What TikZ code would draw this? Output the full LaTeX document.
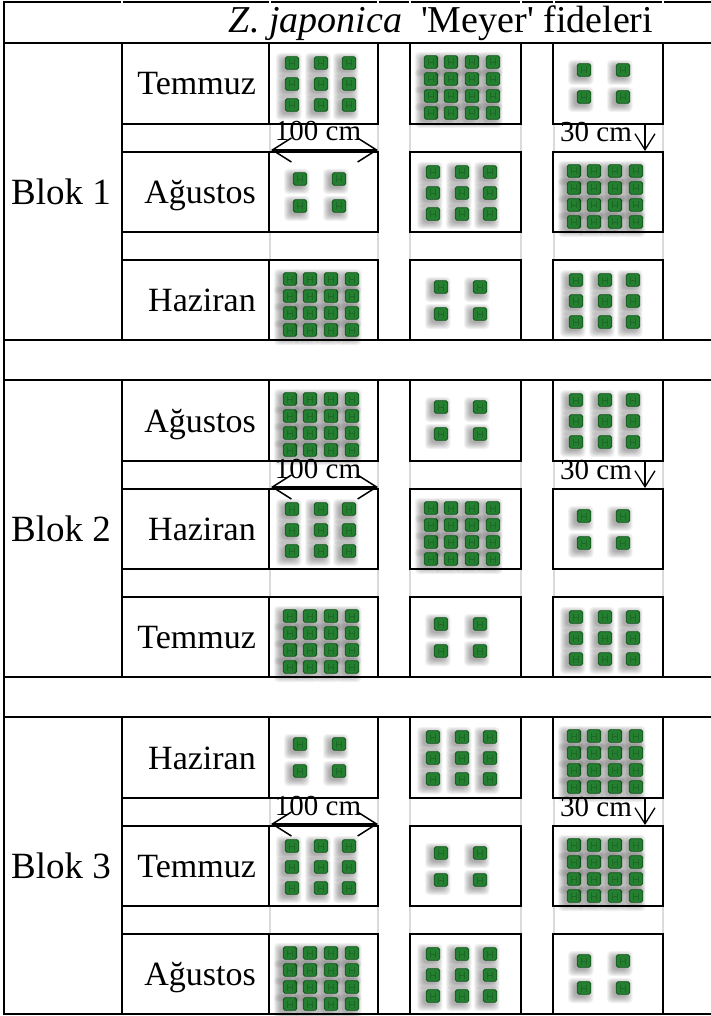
\documentclass[tikz,border=0pt]{standalone}
\usepackage{fontspec}
\setmainfont{Liberation Serif}
\usetikzlibrary{arrows.meta}

\definecolor{seedgreen}{RGB}{36,128,48}
\definecolor{seeddark}{RGB}{20,84,28}
\definecolor{seedmark}{RGB}{28,104,38}
\definecolor{edgegrey}{RGB}{218,218,218}

% one seedling: soft shadow below-left, then the green pot
\newcommand{\seedling}[2]{%
  \pgfmathsetmacro{\sx}{#1}\pgfmathsetmacro{\sy}{#2}%
  \foreach \k in {0,...,6}{%
    \fill[black,opacity=0.05,rounded corners=4pt]
      (\sx-10-\k,\sy-4-\k) rectangle (\sx+3.5+\k,\sy+9+\k);}
  \fill[seedgreen,draw=seeddark,line width=0.8pt,rounded corners=1.8pt]
    (\sx-6.8,\sy-6.3) rectangle (\sx+6.8,\sy+6.3);
  \draw[seedmark,line width=0.6pt]
    (\sx-2.5,\sy-3.5) -- (\sx-2.5,\sy+3.5)
    (\sx+2.5,\sy-3.5) -- (\sx+2.5,\sy+3.5)
    (\sx-2.5,\sy) -- (\sx+2.5,\sy);
}

% a plot with 4, 9 or 16 seedlings; (#2,#3) is its top-left corner
\newcommand{\bed}[3]{%
  \ifnum#1=4
    \foreach \u in {31,70}{\foreach \v in {27,54}{\seedling{#2+\u}{#3+\v}}}\fi
  \ifnum#1=9
    \foreach \u in {23,52,80}{\foreach \v in {20,41,62}{\seedling{#2+\u}{#3+\v}}}\fi
  \ifnum#1=16
    \foreach \u in {21,41,62,83}{\foreach \v in {19,36,53,70}{\seedling{#2+\u}{#3+\v}}}\fi
}

\tikzset{
  rule/.style={line width=2.5pt},
  lbl/.style={font=\fontsize{34}{40}\selectfont,inner sep=0pt},
  bloklbl/.style={font=\fontsize{37}{44}\selectfont,inner sep=0pt},
  head/.style={font=\fontsize{38}{44}\selectfont,inner sep=0pt},
  dimtext/.style={font=\fontsize{29}{34}\selectfont,inner sep=0pt},
  widthdim/.style={line width=1.8pt,
    {Straight Barb[length=19pt,width=24pt,line width=1.5pt]}-{Straight Barb[length=19pt,width=24pt,line width=1.5pt]}},
  spacedim/.style={line width=1.4pt,
    -{Straight Barb[length=16pt,width=20pt,line width=1.3pt]}},
}

\begin{document}
\begin{tikzpicture}[x=1pt,y=-1pt]
\useasboundingbox (0,0) rectangle (711,1016);
\fill[white] (0,0) rectangle (711,1016);

\node[head,anchor=base] (title) at (441,33)
  {\textit{Z. japonica}\ \ \textquotesingle Meyer\textquotesingle\ fideleri};

\foreach \T/\ma/\mb/\mc/\pa/\pb/\pc/\qa/\qb/\qc/\ra/\rb/\rc [count=\i] in {
  43/Temmuz/Ağustos/Haziran/9/16/4/4/9/16/16/4/9,
  380/Ağustos/Haziran/Temmuz/16/4/9/9/16/4/16/4/9,
  717/Haziran/Temmuz/Ağustos/4/9/16/9/4/16/16/9/4}{
  \pgfmathsetmacro{\Yb}{\T+109}
  \pgfmathsetmacro{\Yc}{\T+217}
  \pgfmathsetmacro{\Yend}{\T+297}
  % pale image edges showing in the gaps between plots
  \foreach \g in {\T+81,\T+189}{
    \foreach \x in {270,378,410,521,554,663}{
      \draw[edgegrey,line width=2.5pt] (\x,\g) -- (\x,\g+28);}}
  % seedlings
  \bed{\pa}{269}{\T}\bed{\pb}{410}{\T}\bed{\pc}{553}{\T}
  \bed{\qa}{269}{\Yb}\bed{\qb}{410}{\Yb}\bed{\qc}{553}{\Yb}
  \bed{\ra}{269}{\Yc}\bed{\rb}{410}{\Yc}\bed{\rc}{553}{\Yc}
  % labels
  \node[bloklbl] (blok-\i) at (61,\T+148.5) {Blok \i};
  \node[lbl,anchor=base east] (month-\i-a) at (256,\T+52) {\ma};
  \node[lbl,anchor=base east] (month-\i-b) at (256,\Yb+51.5) {\mb};
  \node[lbl,anchor=base east] (month-\i-c) at (256,\Yc+51.5) {\mc};
  % spacing marks
  \node[dimtext,anchor=base] (cm100-\i) at (318,\T+98) {100 cm};
  \node[dimtext,anchor=base west] (cm30-\i) at (560,\T+99) {30 cm};
  \coordinate (wl-\i) at (271,\T+107);
  \coordinate (wr-\i) at (378,\T+107);
  \draw[widthdim] (wl-\i) -- (wr-\i);
  \coordinate (st-\i) at (645,\T+82);
  \coordinate (sb-\i) at (645,\T+108);
  \draw[spacedim] (st-\i) -- (sb-\i);
  % cell and plot frames
  \draw[rule] (122,\T) -- (122,\Yend);
  \foreach \y/\h in {\T/81,\Yb/80,\Yc/80}{
    \draw[rule] (122,\y) rectangle (269,\y+\h);
    \draw[rule] (269,\y) rectangle (378,\y+\h);
    \draw[rule] (410,\y) rectangle (521,\y+\h);
    \draw[rule] (553,\y) rectangle (663,\y+\h);}
}

% full-width rules and outer frame
\foreach \y in {43,340,380,677,717,1014}{
  \draw[rule] (4,\y) -- (711,\y);}
\draw[line width=2pt] (4,2) -- (711,2);
\draw[line width=2pt] (4,1) -- (4,1015);
\foreach \x in {122,270,378,410,521,554,663}{
  \draw[white,line width=2pt] (\x,0.5) -- (\x,3.5);}
\end{tikzpicture}
\end{document}
